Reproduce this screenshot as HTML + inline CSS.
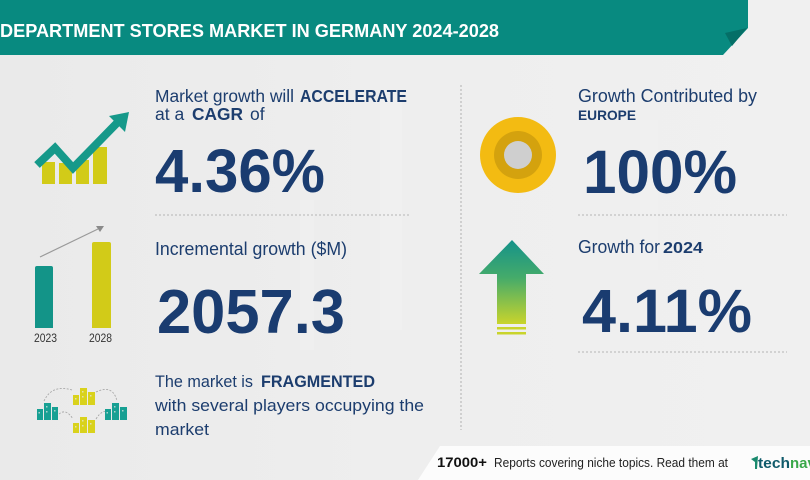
<!DOCTYPE html>
<html>
<head>
<meta charset="utf-8">
<style>
html,body{margin:0;padding:0;width:810px;height:480px;overflow:hidden;background:#ededed;}
svg{display:block;}
text{font-family:"Liberation Sans",sans-serif;}
</style>
</head>
<body>
<svg width="810" height="480" viewBox="0 0 810 480" xmlns="http://www.w3.org/2000/svg">
<defs>
<linearGradient id="bg" x1="0" y1="0" x2="1" y2="0">
<stop offset="0" stop-color="#eaeaea"/>
<stop offset="0.5" stop-color="#eeeeee"/>
<stop offset="1" stop-color="#f0f0f0"/>
</linearGradient>
<linearGradient id="arr" x1="0" y1="0" x2="0" y2="1">
<stop offset="0" stop-color="#14928a"/>
<stop offset="0.45" stop-color="#45ab6a"/>
<stop offset="1" stop-color="#c9d42c"/>
</linearGradient>
</defs>
<rect x="0" y="0" width="810" height="480" fill="url(#bg)"/>
<!-- faint background structures -->
<g fill="#f2f2f2" opacity="0.5">
<rect x="700" y="60" width="30" height="200"/>
<rect x="640" y="120" width="18" height="150"/>
<rect x="380" y="90" width="22" height="240"/>
<rect x="300" y="200" width="14" height="150"/>
</g>
<!-- header banner -->
<polygon points="0,0 748,0 748,28 723,55 0,55" fill="#088a80"/>
<polygon points="725,33 747,28 732,46" fill="#056f67"/>
<text x="0" y="37" font-size="18" font-weight="bold" fill="#ffffff" textLength="499" lengthAdjust="spacingAndGlyphs">DEPARTMENT STORES MARKET IN GERMANY 2024-2028</text>

<!-- vertical dotted divider -->
<line x1="461" y1="85" x2="461" y2="430" stroke="#b0b0b0" stroke-width="1" stroke-dasharray="2,2"/>
<!-- separators -->
<line x1="155" y1="215" x2="410" y2="215" stroke="#b5b5b5" stroke-width="1" stroke-dasharray="2,2"/>
<line x1="578" y1="215" x2="787" y2="215" stroke="#b5b5b5" stroke-width="1" stroke-dasharray="2,2"/>
<line x1="578" y1="352" x2="787" y2="352" stroke="#b5b5b5" stroke-width="1" stroke-dasharray="2,2"/>

<!-- growth chart icon -->
<g fill="#d2cb18">
<rect x="42" y="162" width="13" height="22"/>
<rect x="59" y="163" width="13" height="21"/>
<rect x="76" y="160" width="13" height="24"/>
<rect x="93" y="147" width="14" height="37"/>
</g>
<polyline points="37,165 55,148 73,168 117,123" fill="none" stroke="#16998a" stroke-width="8" stroke-linejoin="miter"/>
<polygon points="129,112 109,116 125,132" fill="#16998a"/>

<!-- bar icon -->
<path d="M35,268 Q35,266 37,266 L51,266 Q53,266 53,268 L53,328 L35,328 Z" fill="#139488"/>
<path d="M92,244 Q92,242 94,242 L109,242 Q111,242 111,244 L111,328 L92,328 Z" fill="#d2cb18"/>
<line x1="40" y1="257" x2="98" y2="229" stroke="#9a9a9a" stroke-width="1.2"/>
<polygon points="104,226 96,226 100,232" fill="#8a8a8a"/>
<text x="34" y="342" font-size="11.5" fill="#333" textLength="23" lengthAdjust="spacingAndGlyphs">2023</text>
<text x="89" y="342" font-size="11.5" fill="#333" textLength="23" lengthAdjust="spacingAndGlyphs">2028</text>

<!-- fragmented icon -->
<g fill="none" stroke="#a8a8a8" stroke-width="0.9" stroke-dasharray="2,1.5">
<path d="M44,401 Q52,384 72,390"/>
<path d="M96,392 Q113,384 117,401"/>
<path d="M59,414 Q66,408 73,419"/>
<path d="M96,419 Q103,408 109,413"/>
</g>
<g fill="#17a093">
<rect x="37" y="409" width="6" height="11"/><rect x="44" y="403" width="7" height="17"/><rect x="52" y="407" width="6" height="13"/>
<rect x="105" y="409" width="6" height="11"/><rect x="112" y="403" width="7" height="17"/><rect x="120" y="407" width="7" height="13"/>
</g>
<g fill="#d9d21c">
<rect x="73" y="395" width="6" height="10"/><rect x="80" y="388" width="7" height="17"/><rect x="88" y="392" width="7" height="13"/>
<rect x="73" y="423" width="6" height="10"/><rect x="80" y="417" width="7" height="16"/><rect x="88" y="420" width="7" height="13"/>
</g>
<g fill="#e8e8e8" opacity="0.7">
<rect x="38.5" y="412" width="1.5" height="1.5"/><rect x="46" y="406" width="1.5" height="1.5"/><rect x="46" y="411" width="1.5" height="1.5"/><rect x="54" y="410" width="1.5" height="1.5"/>
<rect x="106.5" y="412" width="1.5" height="1.5"/><rect x="114" y="406" width="1.5" height="1.5"/><rect x="114" y="411" width="1.5" height="1.5"/><rect x="122" y="410" width="1.5" height="1.5"/>
<rect x="82" y="391" width="1.5" height="1.5"/><rect x="82" y="396" width="1.5" height="1.5"/><rect x="75" y="398" width="1.5" height="1.5"/><rect x="90" y="395" width="1.5" height="1.5"/>
<rect x="82" y="420" width="1.5" height="1.5"/><rect x="82" y="425" width="1.5" height="1.5"/><rect x="75" y="426" width="1.5" height="1.5"/><rect x="90" y="423" width="1.5" height="1.5"/>
</g>

<!-- left texts -->
<g fill="#1c3d6e">
<text x="155" y="102" font-size="17.5" textLength="139" lengthAdjust="spacingAndGlyphs">Market growth will</text>
<text x="300" y="102" font-size="17.5" font-weight="bold" textLength="107" lengthAdjust="spacingAndGlyphs">ACCELERATE</text>
<text x="155" y="120" font-size="17.5">at a</text>
<text x="192" y="120" font-size="17.5" font-weight="bold" textLength="51" lengthAdjust="spacingAndGlyphs">CAGR</text>
<text x="250" y="120" font-size="17.5">of</text>
<text x="155" y="192" font-size="61" font-weight="bold" fill="#1a3c70" textLength="170" lengthAdjust="spacingAndGlyphs">4.36%</text>
<text x="155" y="255" font-size="18.5" textLength="192" lengthAdjust="spacingAndGlyphs">Incremental growth ($M)</text>
<text x="157" y="333" font-size="62" font-weight="bold" fill="#1a3c70" textLength="188" lengthAdjust="spacingAndGlyphs">2057.3</text>
<text x="155" y="387" font-size="17" textLength="98" lengthAdjust="spacingAndGlyphs">The market is</text>
<text x="261" y="387" font-size="17" font-weight="bold" textLength="114" lengthAdjust="spacingAndGlyphs">FRAGMENTED</text>
<text x="155" y="411" font-size="17" textLength="269" lengthAdjust="spacingAndGlyphs">with several players occupying the</text>
<text x="155" y="435" font-size="17" textLength="54" lengthAdjust="spacingAndGlyphs">market</text>
</g>

<!-- circle icon -->
<circle cx="518" cy="155" r="38" fill="#f3bb12"/>
<circle cx="518" cy="155" r="24" fill="#d4a20e"/>
<circle cx="518" cy="155" r="14" fill="#cfcfcf"/>

<!-- arrow icon -->
<polygon points="512,240 544,274 526,274 526,324 497,324 497,274 479,274" fill="url(#arr)"/>
<rect x="497" y="327" width="29" height="2.5" fill="#c9d42c"/>
<rect x="497" y="332" width="29" height="2.5" fill="#c9d42c"/>

<!-- right texts -->
<g fill="#1c3d6e">
<text x="578" y="102" font-size="18.5" textLength="179" lengthAdjust="spacingAndGlyphs">Growth Contributed by</text>
<text x="578" y="120" font-size="14" font-weight="bold" textLength="58" lengthAdjust="spacingAndGlyphs">EUROPE</text>
<text x="583" y="193" font-size="61" font-weight="bold" fill="#1a3c70" textLength="154" lengthAdjust="spacingAndGlyphs">100%</text>
<text x="578" y="253" font-size="18.5" textLength="82" lengthAdjust="spacingAndGlyphs">Growth for</text>
<text x="663" y="253" font-size="16" font-weight="bold" textLength="40" lengthAdjust="spacingAndGlyphs">2024</text>
<text x="582" y="332" font-size="61" font-weight="bold" fill="#1a3c70" textLength="170" lengthAdjust="spacingAndGlyphs">4.11%</text>
</g>

<!-- footer -->
<polygon points="440,446 810,446 810,480 418,480" fill="#fcfcfc"/>
<text x="437" y="467" font-size="13.5" font-weight="bold" fill="#111" textLength="50" lengthAdjust="spacingAndGlyphs">17000+</text>
<text x="494" y="467" font-size="13" fill="#222" textLength="234" lengthAdjust="spacingAndGlyphs">Reports covering niche topics. Read them at</text>
<polygon points="751,459 758,456 757,469 755,469 755,462" fill="#1a8a6e"/>
<text x="758" y="468" font-size="15" font-weight="bold" fill="#0f5a6a" textLength="32" lengthAdjust="spacingAndGlyphs">tech</text>
<text x="790" y="468" font-size="15" font-weight="bold" fill="#3aa84a">navio</text>
</svg>
</body>
</html>
